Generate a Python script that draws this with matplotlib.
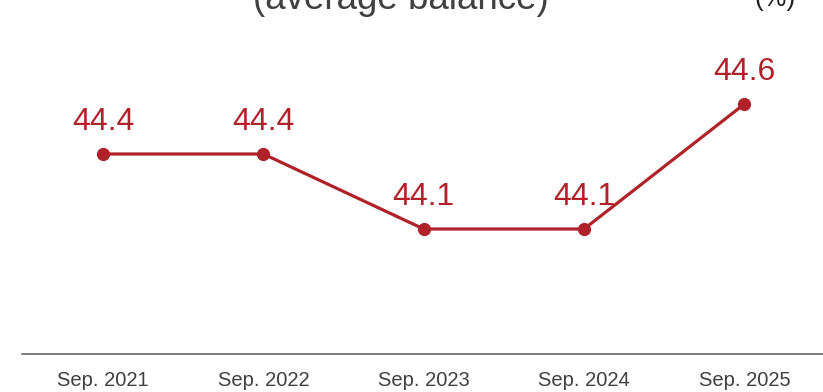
import matplotlib
matplotlib.use('Agg')
import matplotlib.pyplot as plt

periods = ['Sep. 2021', 'Sep. 2022', 'Sep. 2023', 'Sep. 2024', 'Sep. 2025']
ratio = [44.4, 44.4, 44.1, 44.1, 44.6]
value_labels = ['44.4', '44.4', '44.1', '44.1', '44.6']

RED = '#B0222A'
GREY = '#404040'

plt.rcParams['font.family'] = ['Liberation Sans', 'DejaVu Sans']

fig = plt.figure(figsize=(8.23, 3.92), dpi=100)
ax = fig.add_axes([22 / 823, 38 / 392, 801 / 823, 350 / 392])

x = list(range(len(periods)))
ax.plot(x, ratio, color=RED, linewidth=2.3, marker='o', markersize=8.5, zorder=3)
for xi, yi, lab in zip(x, ratio, value_labels):
    ax.annotate(lab, (xi, yi), xytext=(0, 12), textcoords='offset points',
                ha='center', va='bottom', fontsize=23, color=RED)

ax.set_xlim(-0.505, 4.49)
ax.set_ylim(43.6, 45.0)
ax.set_xticks(x)
ax.set_xticklabels(periods, fontsize=14.5, color=GREY)
ax.tick_params(axis='x', length=0, pad=12)
ax.set_yticks([])
for side in ['left', 'right', 'top']:
    ax.spines[side].set_visible(False)
ax.spines['bottom'].set_color('#595959')
ax.spines['bottom'].set_linewidth(1.1)

# heading sits partly above the top edge
fig.text(401 / 823, 1 - 9 / 392, '(average balance)', ha='center', va='baseline',
         fontsize=26.5, color=GREY)
fig.text(775 / 823, 1 - 6 / 392, '(%)', ha='center', va='baseline',
         fontsize=19, color='#222222')

fig.savefig('out.png', dpi=100)
